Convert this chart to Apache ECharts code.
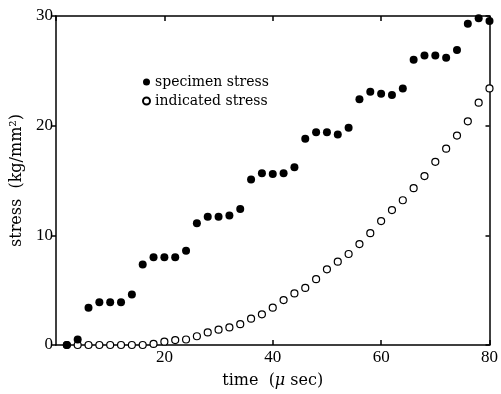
<!DOCTYPE html>
<html>
<head>
<meta charset="utf-8">
<script src="https://cdn.jsdelivr.net/npm/echarts@6/dist/echarts.min.js"></script>
<style>
	html, body { margin: 0; padding: 0; background: #fff; }
	#chart { width: 501px; height: 394px; }
</style>
</head>
<body>
<div id="chart"></div>
<script>
// time (μsec), every 2 μs
var timeList = [ 2, 4, 6, 8, 10, 12, 14, 16, 18, 20, 22, 24, 26, 28, 30, 32, 34, 36, 38, 40,
	42, 44, 46, 48, 50, 52, 54, 56, 58, 60, 62, 64, 66, 68, 70, 72, 74, 76, 78, 80 ];

// specimen stress (kg/mm2)
var specimenList = [ 0, 0.5, 3.4, 3.9, 3.9, 3.9, 4.6, 7.35, 8.0, 8.0, 8.0, 8.6, 11.1, 11.7, 11.7, 11.8, 12.4, 15.1, 15.65, 15.6,
	15.65, 16.2, 18.8, 19.4, 19.4, 19.2, 19.8, 22.4, 23.1, 22.9, 22.8, 23.4, 26.0, 26.4, 26.4, 26.2, 26.9, 29.3, 29.8, 29.55 ];

// indicated stress (kg/mm2)
var indicatedList = [ 0, 0, 0, 0, 0, 0, 0, 0, 0.1, 0.3, 0.45, 0.5, 0.8, 1.15, 1.4, 1.6, 1.9, 2.4, 2.8, 3.4,
	4.1, 4.7, 5.2, 6.0, 6.9, 7.6, 8.3, 9.2, 10.2, 11.3, 12.3, 13.2, 14.3, 15.4, 16.7, 17.9, 19.1, 20.4, 22.1, 23.4 ];

var xTicks = { min : 0, max : 80, interval : 20 };
var yTicks = { min : 0, max : 30, interval : 10 };

function pairs(xs, ys) {
	var out = [];
	for (var i = 0; i < xs.length; i++) {
		out.push([ xs[i], ys[i] ]);
	}
	return out;
}

var font = '"Liberation Serif", "DejaVu Serif", serif';
var wideFont = '"DejaVu Serif", serif';
var lineStyle = { color : '#000', width : 1.5 };

var chart = echarts.init(document.getElementById('chart'));
var option = {
	backgroundColor : '#fff',
	animation : false,
	grid : {
		left : 56,
		right : 8,
		top : 16,
		bottom : 47
	},
	legend : {
		orient : 'vertical',
		left : 137,
		top : 70,
		itemWidth : 7,
		itemHeight : 7,
		itemGap : 5,
		textStyle : {
			fontFamily : wideFont,
			fontSize : 14,
			color : '#000'
		},
		data : [ 'specimen stress', 'indicated stress' ]
	},
	xAxis : [ {
		type : 'value',
		min : xTicks.min,
		max : xTicks.max,
		interval : xTicks.interval,
		name : 'time  ({i|μ} sec)',
		nameLocation : 'middle',
		nameGap : 28,
		nameTextStyle : {
			fontFamily : wideFont,
			fontSize : 16,
			color : '#000',
			rich : {
				i : { fontStyle : 'italic', fontFamily : wideFont, fontSize : 16 }
			}
		},
		axisLine : { onZero : false, lineStyle : lineStyle },
		axisTick : { inside : true, length : 5, lineStyle : lineStyle },
		axisLabel : {
			showMinLabel : false,
			margin : 4,
			fontFamily : font,
			fontSize : 17,
			color : '#000'
		},
		splitLine : { show : false }
	}, {
		type : 'value',
		position : 'top',
		min : xTicks.min,
		max : xTicks.max,
		interval : xTicks.interval,
		axisLine : { show : true, onZero : false, lineStyle : lineStyle },
		axisTick : { show : true, inside : true, length : 5, lineStyle : lineStyle },
		axisLabel : { show : false },
		splitLine : { show : false }
	} ],
	yAxis : [ {
		type : 'value',
		min : yTicks.min,
		max : yTicks.max,
		interval : yTicks.interval,
		name : 'stress  (kg/mm²)',
		nameLocation : 'middle',
		nameRotate : 90,
		nameGap : 29,
		nameTextStyle : {
			fontFamily : wideFont,
			fontSize : 16,
			color : '#000'
		},
		axisLine : { show : true, onZero : false, lineStyle : lineStyle },
		axisTick : { show : true, inside : false, length : 4, lineStyle : lineStyle },
		axisLabel : {
			margin : 3,
			fontFamily : font,
			fontSize : 17,
			color : '#000'
		},
		splitLine : { show : false }
	}, {
		type : 'value',
		position : 'right',
		min : yTicks.min,
		max : yTicks.max,
		interval : yTicks.interval,
		axisLine : { show : true, onZero : false, lineStyle : lineStyle },
		axisTick : { show : true, inside : true, length : 4, lineStyle : lineStyle },
		axisLabel : { show : false },
		splitLine : { show : false }
	} ],
	series : [ {
		name : 'specimen stress',
		type : 'scatter',
		clip : false,
		symbol : 'circle',
		symbolSize : 8,
		itemStyle : { color : '#000', opacity : 1 },
		data : pairs(timeList, specimenList),
		z : 4
	}, {
		name : 'indicated stress',
		type : 'scatter',
		clip : false,
		symbol : 'circle',
		symbolSize : 7,
		itemStyle : {
			color : '#fff',
			borderColor : '#000',
			borderWidth : 1.2,
			opacity : 1
		},
		data : pairs(timeList, indicatedList),
		z : 3
	} ]
};
chart.setOption(option, true);
</script>
</body>
</html>
